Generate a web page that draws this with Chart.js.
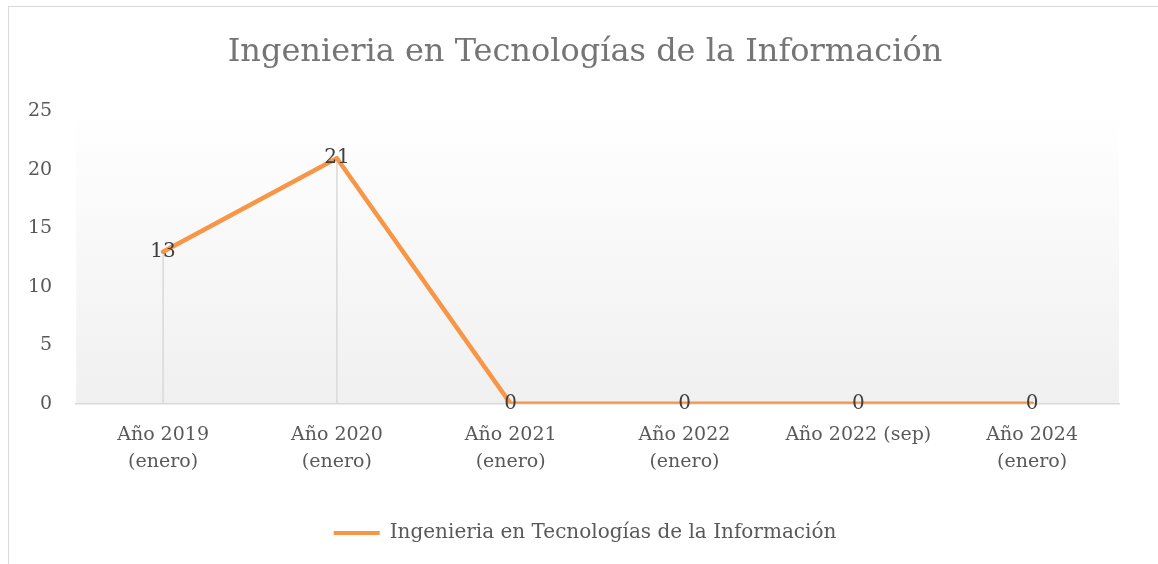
<!DOCTYPE html>
<html>
<head>
<meta charset="utf-8">
<script src="https://cdn.jsdelivr.net/npm/chart.js@4/dist/chart.umd.min.js"></script>
<style>
  html, body { margin: 0; padding: 0; background: #fff; overflow: hidden; width: 1158px; height: 564px; }
  #frame { position: absolute; left: 8px; top: 6px; width: 1180px; height: 600px; border: 1px solid #d9d9d9; box-sizing: border-box; }
  #wrap { position: absolute; left: 0; top: 0; width: 1170px; height: 564px; }
</style>
</head>
<body>
<div id="frame"></div>
<div id="wrap"><canvas id="chart"></canvas></div>
<script>
// data
const categories = [
    ['Año 2019', '(enero)'],
    ['Año 2020', '(enero)'],
    ['Año 2021', '(enero)'],
    ['Año 2022', '(enero)'],
    'Año 2022 (sep)',
    ['Año 2024', '(enero)']
];
const seriesName = 'Ingenieria en Tecnologías de la Información';
const values = [13, 21, 0, 0, 0, 0];
const yTicks = [0, 5, 10, 15, 20, 25];

const FONT = 'DejaVu Serif';
const ORANGE = '#F79646';

// plot area gradient (white -> light grey)
const plotBg = {
    id: 'plotBg',
    beforeDraw(chart) {
        const { ctx, chartArea: a } = chart;
        const g = ctx.createLinearGradient(0, a.top, 0, a.bottom);
        g.addColorStop(0, '#ffffff');
        g.addColorStop(1, '#f0f0f0');
        ctx.save();
        ctx.fillStyle = g;
        ctx.fillRect(a.left, a.top, a.right - a.left, a.bottom - a.top);
        ctx.restore();
    }
};

// drop lines from each point down to the axis
const dropLines = {
    id: 'dropLines',
    beforeDatasetsDraw(chart) {
        const { ctx } = chart;
        const y0 = chart.scales.y.getPixelForValue(0);
        const meta = chart.getDatasetMeta(0);
        ctx.save();
        ctx.strokeStyle = '#d9d9d9';
        ctx.lineWidth = 1.5;
        meta.data.forEach(p => {
            ctx.beginPath();
            ctx.moveTo(p.x, p.y);
            ctx.lineTo(p.x, y0);
            ctx.stroke();
        });
        ctx.restore();
    }
};

// value labels centred on the points
const valueLabels = {
    id: 'valueLabels',
    afterDatasetsDraw(chart) {
        const { ctx } = chart;
        const meta = chart.getDatasetMeta(0);
        ctx.save();
        ctx.font = '20px "' + FONT + '"';
        ctx.fillStyle = '#404040';
        ctx.textAlign = 'center';
        ctx.textBaseline = 'middle';
        meta.data.forEach((p, i) => {
            ctx.fillText(String(values[i]), p.x, p.y);
        });
        ctx.restore();
    }
};

new Chart(document.getElementById('chart'), {
    type: 'line',
    data: {
        labels: categories,
        datasets: [{
            label: seriesName,
            data: values,
            borderColor: ORANGE,
            backgroundColor: ORANGE,
            borderWidth: 4.5,
            pointRadius: 0,
            tension: 0,
            borderJoinStyle: 'round',
            borderCapStyle: 'round'
        }]
    },
    options: {
        responsive: true,
        maintainAspectRatio: false,
        animation: false,
        layout: { padding: { left: 4, right: 4, top: 12, bottom: 11 } },
        plugins: {
            title: {
                display: true,
                text: seriesName,
                color: '#757575',
                font: { family: FONT, size: 32, weight: 'normal' },
                padding: { top: 21, bottom: 40 }
            },
            legend: {
                position: 'bottom',
                labels: {
                    color: '#595959',
                    font: { family: FONT, size: 20 },
                    boxWidth: 46,
                    boxHeight: 4,
                    padding: 30,
                    generateLabels(chart) {
                        return [{
                            text: seriesName,
                            fillStyle: ORANGE,
                            strokeStyle: ORANGE,
                            lineWidth: 0,
                            fontColor: '#595959'
                        }];
                    }
                }
            },
            tooltip: { enabled: false }
        },
        scales: {
            x: {
                offset: true,
                grid: { display: false, drawTicks: false },
                border: { color: '#d9d9d9', width: 1.5 },
                ticks: { color: '#595959', font: { family: FONT, size: 19, lineHeight: 1.4 }, padding: 18, maxRotation: 0, autoSkip: false }
            },
            y: {
                min: 0,
                max: 25,
                afterBuildTicks(axis) { axis.ticks = yTicks.map(v => ({ value: v })); },
                grid: { display: false, drawTicks: false },
                border: { display: false },
                ticks: { color: '#595959', font: { family: FONT, size: 19 }, padding: 24 }
            },
            // empty right-hand margin so the plot ends where the reference's does
            yRight: {
                position: 'right',
                grid: { display: false, drawTicks: false },
                border: { display: false },
                ticks: { display: false },
                afterFit(axis) { axis.width = 47; }
            }
        }
    },
    plugins: [plotBg, dropLines, valueLabels]
});
</script>
</body>
</html>
